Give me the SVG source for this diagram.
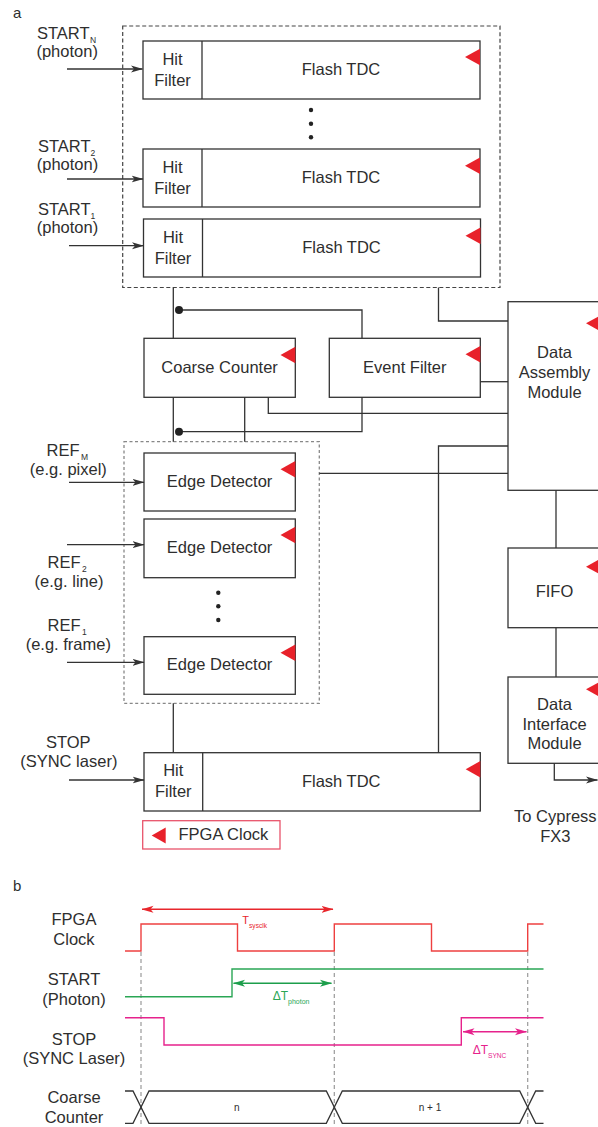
<svg xmlns="http://www.w3.org/2000/svg" width="598" height="1127" viewBox="0 0 598 1127">
<defs>
<style>
text{font-family:"Liberation Sans",Arial,sans-serif;fill:#2e2e2e;font-size:16.5px}
.c{text-anchor:middle}
.box{fill:#fff;stroke:#333;stroke-width:1.3}
.ln{fill:none;stroke:#333;stroke-width:1.3}
.clk{fill:#e8212a}
.sub{font-size:8.5px;fill:#2e2e2e}
.wire{fill:none;stroke-width:1.4}
</style>
<marker id="ak" viewBox="0 0 12 8" refX="11.5" refY="4" markerWidth="12" markerHeight="8" markerUnits="userSpaceOnUse" orient="auto-start-reverse"><path d="M0,0.5 L12,4 L0,7.5 L3,4 z" fill="#333"/></marker>
<marker id="ar" viewBox="0 0 12 8" refX="11.5" refY="4" markerWidth="12" markerHeight="8" markerUnits="userSpaceOnUse" orient="auto-start-reverse"><path d="M0,0.5 L12,4 L0,7.5 L3,4 z" fill="#e8262c"/></marker>
<marker id="ag" viewBox="0 0 12 8" refX="11.5" refY="4" markerWidth="12" markerHeight="8" markerUnits="userSpaceOnUse" orient="auto-start-reverse"><path d="M0,0.5 L12,4 L0,7.5 L3,4 z" fill="#1c9e4b"/></marker>
<marker id="am" viewBox="0 0 12 8" refX="11.5" refY="4" markerWidth="12" markerHeight="8" markerUnits="userSpaceOnUse" orient="auto-start-reverse"><path d="M0,0.5 L12,4 L0,7.5 L3,4 z" fill="#e6228c"/></marker>
</defs>

<text x="13" y="18" style="font-size:15px">a</text>

<!-- group boxes -->
<rect id="tdc-group" x="122.7" y="26" width="377.3" height="261.5" fill="none" stroke="#444" stroke-width="1.2" stroke-dasharray="4 2.5"/>
<rect id="edge-group" x="124" y="441.7" width="195.3" height="261.6" fill="none" stroke="#888" stroke-width="1.3" stroke-dasharray="3 2.5"/>

<!-- input labels -->
<g id="labels-in">
<text x="37" y="39.3">START<tspan class="sub" dx="0.5" dy="4">N</tspan></text>
<text class="c" x="67.2" y="57.3">(photon)</text>
<text x="38" y="151.7">START<tspan class="sub" dx="0" dy="4">2</tspan></text>
<text class="c" x="67.5" y="169.5">(photon)</text>
<text x="38" y="215">START<tspan class="sub" dx="0" dy="4">1</tspan></text>
<text class="c" x="67.5" y="233">(photon)</text>
<text x="46.5" y="455.7">REF<tspan class="sub" dx="1.5" dy="4">M</tspan></text>
<text class="c" x="68.3" y="475">(e.g. pixel)</text>
<text x="47.5" y="568">REF<tspan class="sub" dx="1.5" dy="4">2</tspan></text>
<text class="c" x="69" y="587">(e.g. line)</text>
<text x="47.5" y="630.7">REF<tspan class="sub" dx="1.5" dy="4">1</tspan></text>
<text class="c" x="68.3" y="649.5">(e.g. frame)</text>
<text class="c" x="68.3" y="747.7">STOP</text>
<text class="c" x="68.8" y="767">(SYNC laser)</text>
</g>

<!-- TDC N -->
<g id="tdc-n">
<rect class="box" x="143" y="41" width="337" height="58"/>
<line class="ln" x1="202" y1="41" x2="202" y2="99"/>
<text class="c" x="172.5" y="65">Hit</text>
<text class="c" x="172.5" y="86">Filter</text>
<text class="c" x="341" y="75">Flash TDC</text>
<polygon class="clk" points="480,48.7 465,57 480,65.3"/>
</g>
<g id="dots-tdc">
<circle cx="311" cy="110" r="2.2" fill="#222"/>
<circle cx="311" cy="123.7" r="2.2" fill="#222"/>
<circle cx="311" cy="137.3" r="2.2" fill="#222"/>
</g>
<g id="tdc-2">
<rect class="box" x="143" y="149" width="337" height="58"/>
<line class="ln" x1="202" y1="149" x2="202" y2="207"/>
<text class="c" x="172.5" y="173">Hit</text>
<text class="c" x="172.5" y="194">Filter</text>
<text class="c" x="341" y="183">Flash TDC</text>
<polygon class="clk" points="480,157.4 465,165.7 480,174"/>
</g>
<g id="tdc-1">
<rect class="box" x="143.5" y="219" width="337" height="58"/>
<line class="ln" x1="202.5" y1="219" x2="202.5" y2="277"/>
<text class="c" x="173" y="243">Hit</text>
<text class="c" x="173" y="264">Filter</text>
<text class="c" x="341.5" y="253">Flash TDC</text>
<polygon class="clk" points="480.5,227.4 465.5,235.7 480.5,244"/>
</g>

<g id="coarse-counter">
<rect class="box" x="144" y="338.3" width="151.3" height="59"/>
<text class="c" x="219.6" y="373">Coarse Counter</text>
<polygon class="clk" points="295.3,346.7 280.5,355 295.3,363.3"/>
</g>
<g id="event-filter">
<rect class="box" x="329.3" y="338.3" width="151" height="59"/>
<text class="c" x="404.8" y="373">Event Filter</text>
<polygon class="clk" points="480.3,346 465.5,354.3 480.3,362.6"/>
</g>
<g id="data-assembly">
<rect class="box" x="508" y="301.7" width="93" height="188.6"/>
<text class="c" x="554.5" y="358.3">Data</text>
<text class="c" x="554.5" y="378">Assembly</text>
<text class="c" x="554.5" y="397.5">Module</text>
<polygon class="clk" points="601,315 586,323.3 601,331.6"/>
</g>

<g id="edge-m">
<rect class="box" x="144" y="453" width="151.3" height="58"/>
<text class="c" x="219.6" y="486.7">Edge Detector</text>
<polygon class="clk" points="295.3,461 280.5,469.3 295.3,477.6"/>
</g>
<g id="edge-2">
<rect class="box" x="144" y="519" width="151.3" height="58.7"/>
<text class="c" x="219.6" y="552.7">Edge Detector</text>
<polygon class="clk" points="295.3,526.7 280.5,535 295.3,543.3"/>
</g>
<g id="dots-edge">
<circle cx="218.3" cy="592.7" r="2.2" fill="#222"/>
<circle cx="218.3" cy="606.3" r="2.2" fill="#222"/>
<circle cx="218.3" cy="620" r="2.2" fill="#222"/>
</g>
<g id="edge-1">
<rect class="box" x="144" y="636.7" width="151.3" height="57.6"/>
<text class="c" x="219.6" y="670">Edge Detector</text>
<polygon class="clk" points="295.3,644.4 280.5,652.7 295.3,661"/>
</g>

<g id="tdc-stop">
<rect class="box" x="144" y="752.7" width="336.3" height="58.3"/>
<line class="ln" x1="202.7" y1="752.7" x2="202.7" y2="811"/>
<text class="c" x="173.3" y="776">Hit</text>
<text class="c" x="173.3" y="796.7">Filter</text>
<text class="c" x="341.2" y="786.7">Flash TDC</text>
<polygon class="clk" points="480.3,761 465.7,769.3 480.3,777.6"/>
</g>

<g id="legend">
<rect x="142.7" y="820.7" width="137.3" height="28.3" fill="#fff" stroke="#e9546b" stroke-width="1.3"/>
<polygon class="clk" points="165.7,827.5 151.7,835.5 165.7,843.5"/>
<text x="178.5" y="840">FPGA Clock</text>
</g>

<g id="fifo">
<rect class="box" x="508" y="548" width="93" height="79.7"/>
<text class="c" x="554.5" y="596.7">FIFO</text>
<polygon class="clk" points="601,558.4 586,566.7 601,575"/>
</g>
<g id="data-interface">
<rect class="box" x="508" y="677" width="93" height="86.3"/>
<text class="c" x="554.5" y="710">Data</text>
<text class="c" x="554.5" y="730">Interface</text>
<text class="c" x="554.5" y="749.3">Module</text>
<polygon class="clk" points="601,681 586,689.3 601,697.6"/>
</g>
<g id="to-cypress">
<text class="c" x="555.3" y="821.7">To Cypress</text>
<text class="c" x="555.3" y="841.7">FX3</text>
</g>

<!-- connectors -->
<g id="connectors" class="ln">
<path d="M67,69 H142.5" marker-end="url(#ak)"/>
<path d="M67,179 H143" marker-end="url(#ak)"/>
<path d="M69,245.7 H143.5" marker-end="url(#ak)"/>
<path d="M69,482.3 H144" marker-end="url(#ak)"/>
<path d="M67,544.7 H144" marker-end="url(#ak)"/>
<path d="M67,662.3 H144" marker-end="url(#ak)"/>
<path d="M69,780 H144" marker-end="url(#ak)"/>
<path d="M173.3,287.5 V338.3"/>
<path d="M179,310 H362 V338.3"/>
<path d="M438.5,287.5 V321 H508"/>
<path d="M480.3,381.7 H508"/>
<path d="M268.3,397.3 V413.3 H508"/>
<path d="M362,397.3 V431.7 H179"/>
<path d="M173.3,397.3 V441.7"/>
<path d="M244.7,397.3 V441.7"/>
<path d="M319.3,473.3 H508"/>
<path d="M438.5,752.7 V446 H508"/>
<path d="M556,490.3 V548"/>
<path d="M556,627.7 V677"/>
<path d="M554.3,763.3 V780 H597.5" marker-end="url(#ak)"/>
<path d="M173.3,703.3 V752.7"/>
<circle cx="179" cy="310" r="4" fill="#222" stroke="none"/>
<circle cx="179" cy="431.7" r="4" fill="#222" stroke="none"/>
</g>

<!-- part b timing diagram -->
<text x="13" y="890.7" style="font-size:15px">b</text>
<g id="timing-labels">
<text class="c" x="74" y="925">FPGA</text>
<text class="c" x="74" y="945">Clock</text>
<text class="c" x="74" y="985">START</text>
<text class="c" x="74" y="1005">(Photon)</text>
<text class="c" x="74" y="1045">STOP</text>
<text class="c" x="74" y="1064">(SYNC Laser)</text>
<text class="c" x="74" y="1103.3">Coarse</text>
<text class="c" x="74" y="1123.3">Counter</text>
</g>
<g id="timing-guides" fill="none" stroke="#9a9a9a" stroke-width="1.2" stroke-dasharray="4 3">
<path d="M141,952 V1127"/>
<path d="M334.3,952 V1127"/>
<path d="M527.7,952 V1127"/>
</g>
<g id="clock-wave">
<path class="wire" stroke="#ee4040" d="M125,951 H141 V924 H237.5 V951 H334.3 V924 H431.5 V951 H527.7 V924 H543.5"/>
<path class="wire" stroke="#e8262c" d="M142,909.3 H333" marker-start="url(#ar)" marker-end="url(#ar)"/>
<text x="242.3" y="924.3" style="font-size:11px;fill:#e8262c">T<tspan dy="4" style="font-size:6.6px">sysclk</tspan></text>
</g>
<g id="start-wave">
<path class="wire" stroke="#2aa655" d="M125,996.7 H232 V969 H543.5"/>
<path class="wire" stroke="#1c9e4b" d="M233.5,983.3 H331.5" marker-start="url(#ag)" marker-end="url(#ag)"/>
<text x="272.7" y="1000" style="font-size:12px;fill:#2aa655">ΔT<tspan dy="4" style="font-size:7px">photon</tspan></text>
</g>
<g id="stop-wave">
<path class="wire" stroke="#e6228c" d="M125,1017.7 H164 V1045 H461.3 V1017.7 H543.5"/>
<path class="wire" stroke="#e6228c" d="M463,1031.7 H526.5" marker-start="url(#am)" marker-end="url(#am)"/>
<text x="472.7" y="1054" style="font-size:12px;fill:#e6228c">ΔT<tspan dy="3.5" style="font-size:6.6px">SYNC</tspan></text>
</g>
<g id="counter-bus">
<path class="ln" d="M125,1091 H133 L149,1123.3 H326.3 L342.3,1091 H519.7 L535.7,1123.3 H543.5"/>
<path class="ln" d="M125,1123.3 H133 L149,1091 H326.3 L342.3,1123.3 H519.7 L535.7,1091 H543.5"/>
<text class="c" x="236.7" y="1111" style="font-size:10px">n</text>
<text class="c" x="430" y="1111" style="font-size:10px">n + 1</text>
</g>
</svg>
